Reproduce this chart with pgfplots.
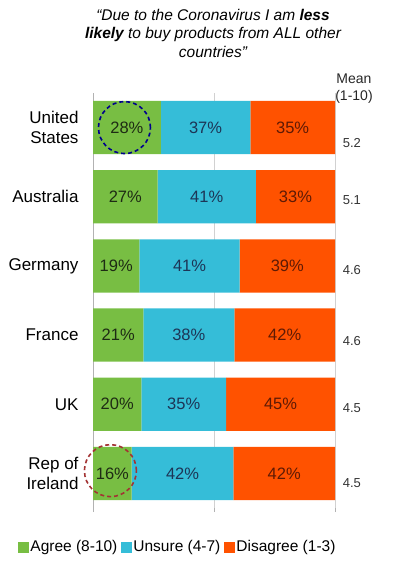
\documentclass[border=0pt]{standalone}
\usepackage{pgfplots}
\pgfplotsset{compat=1.18}
\usepackage{pgfplotstable}
\usepackage{fontspec}
\setmainfont{Liberation Sans}
\definecolor{cagree}{HTML}{78BE43}
\definecolor{cunsure}{HTML}{35BDD8}
\definecolor{cdis}{HTML}{FF5200}
\definecolor{tagree}{HTML}{1E2B14}
\definecolor{tunsure}{HTML}{1D3556}
\definecolor{tdis}{HTML}{5E1A05}
% a, u, d: bar lengths as drawn; ta, tu, td: printed percentages
\pgfplotstableread{
idx a u d ta tu td
0 28 37 35 28 37 35
1 26.7 40.6 32.7 27 41 33
2 19.2 41.4 39.4 19 41 39
3 20.8 37.6 41.6 21 38 42
4 20 35 45 20 35 45
5 16 42 42 16 42 42
}\datatable
\pgfplotsset{
  base/.style={
    at={(93bp,55bp)}, anchor=south west,
    scale only axis, width=242bp, height=415bp,
    xmin=0, xmax=100, ymin=-0.5, ymax=5.5, y dir=reverse,
    /pgf/number format/assume math mode=true,
  },
  lbl/.style={draw=none, mark=none, nodes near coords={\pgfmathprintnumber{\pgfplotspointmeta}\%},
    point meta=explicit,
    nodes near coords style={anchor=center, text=#1, font=\fontsize{16.5bp}{19bp}\selectfont}},
}
\begin{document}
\begin{tikzpicture}
\path[use as bounding box] (0,0) rectangle (394bp,563bp);
\begin{axis}[base,
  xbar stacked, bar width=0.77,
  separate axis lines,
  axis x line*=bottom, axis y line*=left,
  x axis line style={draw=none},
  y axis line style={-, draw=black!30},
  tick align=outside,
  xtick={0,50,100}, xticklabels={},
  major tick length=4bp, minor tick length=5bp,
  x tick style={black!30},
  xmajorgrids, grid style={black!18, line width=0.8bp},
  ytick={0,1,2,3,4,5},
  yticklabels={{United\\States},Australia,Germany,France,UK,{Rep of\\Ireland}},
  ytick style={draw=none},
  minor ytick={-0.5,0.5,1.5,2.5,3.5,4.5,5.5},
  minor y tick style={black!30},
  yticklabel style={align=right, font=\fontsize{17bp}{20bp}\selectfont, xshift=-7bp},
  legend style={at={(rel axis cs:0.349,-0.094)}, anchor=center, draw=none,
    inner sep=0pt, font=\fontsize{15.5bp}{18bp}\selectfont,
    /tikz/every even column/.append style={column sep=2bp},
    nodes={inner xsep=1.5bp}},
  legend columns=3,
  legend image code/.code={\fill[#1] (0bp,-5.5bp) rectangle (11bp,5.5bp);},
]
\addplot[fill=cagree, draw=none] table[x=a, y=idx] {\datatable};
\addplot[fill=cunsure, draw=none] table[x=u, y=idx] {\datatable};
\addplot[fill=cdis, draw=none] table[x=d, y=idx] {\datatable};
\legend{Agree (8-10),Unsure (4-7),Disagree (1-3)}
\end{axis}
\begin{axis}[base, hide axis, clip=false]
\addplot[lbl=tagree] table[x expr=\thisrow{a}/2, y=idx, meta=ta] {\datatable};
\addplot[lbl=tunsure] table[x expr=\thisrow{a}+\thisrow{u}/2, y=idx, meta=tu] {\datatable};
\addplot[lbl=tdis] table[x expr=\thisrow{a}+\thisrow{u}+\thisrow{d}/2, y=idx, meta=td] {\datatable};
\begin{scope}[font=\fontsize{13bp}{15bp}\selectfont, text=black!80]
\node at (axis cs:107,0.22) {5.2};
\node at (axis cs:107,1.05) {5.1};
\node at (axis cs:107,2.06) {4.6};
\node at (axis cs:107,3.08) {4.6};
\node at (axis cs:107,4.05) {4.5};
\node at (axis cs:107,5.14) {4.5};
\end{scope}
\draw[color=blue!55!black, line width=1.6bp, dash pattern=on 4bp off 3bp] (axis cs:13,0) circle[radius=26bp];
\draw[color=red!55!black!80, line width=1.6bp, dash pattern=on 4bp off 3bp] (axis cs:7.2,4.96) circle[radius=26bp];
\end{axis}
\node[align=center, font=\itshape\fontsize{15.5bp}{18.5bp}\selectfont] at (213bp,530bp)
  {“Due to the Coronavirus I am \textbf{less}\\\textbf{likely} to buy products from ALL other\\countries”};
\node[align=center, font=\fontsize{14bp}{17bp}\selectfont, text=black!85] at (354bp,474bp) {Mean\\(1-10)};
\end{tikzpicture}
\end{document}
